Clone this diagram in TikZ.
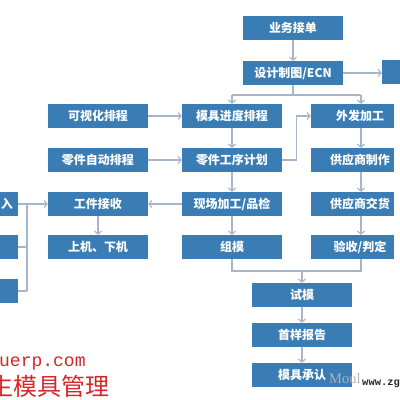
\documentclass[tikz,border=0pt]{standalone}
\usepackage{fontspec}
\newfontfamily\cjk{Noto Sans CJK SC}
\newfontfamily\monofnt{Liberation Mono}
\newfontfamily\seriffnt{Liberation Serif}
\usetikzlibrary{arrows.meta}
\definecolor{boxblue}{HTML}{3A7DB5}
\definecolor{linec}{HTML}{A7B5CB}
\definecolor{wmred}{HTML}{D8262B}
\tikzset{
  box/.style={fill=boxblue, draw=none, text=white, minimum width=100pt, minimum height=24pt, inner sep=0pt, font=\cjk\bfseries\fontsize{12}{12}\selectfont},
  rbox/.style={box, minimum width=83pt},
  conn/.style={draw=linec, line width=1.1pt},
  arr/.style={conn, -{Straight Barb[length=3pt,width=7pt]}},
}
\begin{document}
\begin{tikzpicture}[x=1pt,y=-1pt]
\useasboundingbox (0,0) rectangle (400,400);
\clip (0,0) rectangle (400,400);
\fill[white] (0,0) rectangle (400,400);
% nodes
\node[box] (ywjd) at (293,28) {业务接单};
\node[box] (sjzt) at (293,73) {设计制图/ECN};
\node[box] (rb) at (432,72) {};
\node[box] (ksh) at (98,116) {可视化排程};
\node[box] (mjjd) at (232,116) {模具进度排程};
\node[rbox] (wfjg) at (352.5,116) {\hspace*{15pt}外发加工};
\node[box] (ljzd) at (98,160) {零件自动排程};
\node[box] (ljgx) at (232,160) {零件工序计划};
\node[rbox] (gyszz) at (352.5,160) {\hspace*{15pt}供应商制作};
\node[box] (gjjs) at (98,204) {工件接收};
\node[box] (xcjg) at (232,204) {现场加工/品检};
\node[rbox] (gysjh) at (352.5,204) {\hspace*{15pt}供应商交货};
\node[box] (sjxj) at (98,247) {上机、下机};
\node[box] (zm) at (232,247) {组模};
\node[rbox] (ysp) at (352.5,247) {\hspace*{15pt}验收/判定};
\node[box] (sm) at (302,295) {试模};
\node[box] (sybg) at (302,335) {首样报告};
\node[box] (mjcr) at (302,375) {模具承认};
\node[box] (la) at (-32,204) {};
\node[box] (lb) at (-32,247) {};
\node[box] (lc) at (-32,291) {};
\node[text=white, font=\cjk\bfseries\fontsize{12}{12}\selectfont, inner sep=0pt] (latxt) at (7,204) {入};
% helper coordinates
\coordinate (rc) at (361,0);
\coordinate (lv) at (27,0);
% connectors
\draw[arr] (ywjd) -- (sjzt);
\draw[arr] (sjzt.east) -- (sjzt.east -| rb.west);
\draw[conn] (sjzt.south) -- (sjzt.south |- 0,95);
\draw[conn] (mjjd.north |- 0,95) -- (rc |- 0,95);
\draw[arr] (mjjd.north |- 0,95) -- (mjjd.north);
\draw[arr] (rc |- 0,95) -- (rc |- wfjg.north);
\draw[arr] (ksh) -- (mjjd);
\draw[arr] (ljzd) -- (ljgx);
\draw[arr] (mjjd) -- (ljgx);
\draw[arr] (ljgx) -- (xcjg);
\draw[arr] (xcjg) -- (zm);
\draw[arr] (ljgx.east) -- ++(14,0) |- (wfjg.west);
\draw[arr] (xcjg) -- (gjjs);
\draw[arr] (gjjs) -- (sjxj);
\draw[arr] (rc |- wfjg.south) -- (rc |- gyszz.north);
\draw[arr] (rc |- gyszz.south) -- (rc |- gysjh.north);
\draw[arr] (rc |- gysjh.south) -- (rc |- ysp.north);
\draw[conn] (zm.south) -- (zm.south |- 0,271) -- (rc |- 0,271) -- (rc |- ysp.south);
\draw[arr] (sm.north |- 0,271) -- (sm.north);
\draw[arr] (sm) -- (sybg);
\draw[arr] (sybg) -- (mjcr);
\draw[arr] (la) -- (gjjs);
\draw[conn] (lb.east) -- (lv |- lb.east);
\draw[conn] (lc.east) -- (lv |- lc.east);
\draw[conn] (lv |- la.east) -- (lv |- lc.east);
% watermarks
\node[anchor=base west, inner sep=0pt, text=wmred, font=\monofnt\fontsize{18}{18}\selectfont] (wm1) at (-1,366) {uerp.com};
\node[anchor=base west, inner sep=0pt, text=wmred, font=\cjk\fontsize{24}{24}\selectfont] (wm2) at (-11,395) {生模具管理};
\node[anchor=base west, inner sep=0pt, text=black!30, font=\seriffnt\fontsize{14.5}{14.5}\selectfont] (wm3) at (329,383) {Moul};
\node[anchor=base west, inner sep=0pt, text=black!85, font=\monofnt\bfseries\fontsize{10.5}{10.5}\selectfont] (wm4) at (362,385) {www.zg};
\end{tikzpicture}
\end{document}
